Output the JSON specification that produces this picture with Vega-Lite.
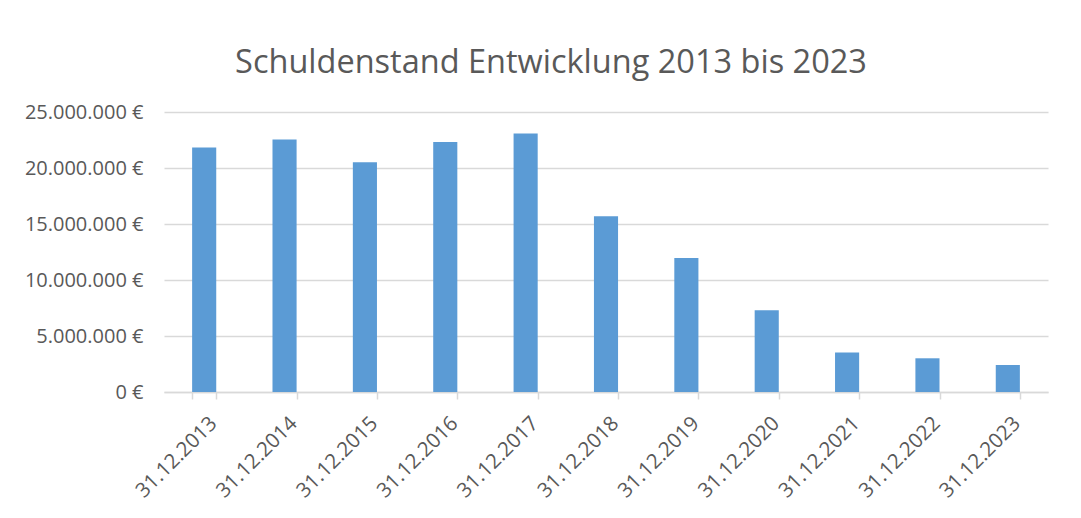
{
  "$schema": "https://vega.github.io/schema/vega-lite/v6.json",
  "width": 884,
  "height": 280,
  "autosize": {"type": "none"},
  "padding": {"left": 164, "top": 112, "right": 33, "bottom": 126},
  "background": "white",
  "title": {
    "text": "Schuldenstand Entwicklung 2013 bis 2023",
    "font": "Open Sans",
    "fontSize": 32.5,
    "fontWeight": "normal",
    "color": "#595959",
    "anchor": "middle",
    "dx": -55,
    "dy": 44,
    "offset": 34,
    "baseline": "bottom"
  },
  "data": {
    "values": [
      {"datum": "31.12.2013", "stand": 21820000},
      {"datum": "31.12.2014", "stand": 22540000},
      {"datum": "31.12.2015", "stand": 20510000},
      {"datum": "31.12.2016", "stand": 22320000},
      {"datum": "31.12.2017", "stand": 23070000},
      {"datum": "31.12.2018", "stand": 15690000},
      {"datum": "31.12.2019", "stand": 11960000},
      {"datum": "31.12.2020", "stand": 7290000},
      {"datum": "31.12.2021", "stand": 3520000},
      {"datum": "31.12.2022", "stand": 3010000},
      {"datum": "31.12.2023", "stand": 2410000}
    ]
  },
  "mark": {"type": "bar", "color": "#5B9BD5"},
  "encoding": {
    "x": {
      "field": "datum",
      "type": "nominal",
      "sort": null,
      "scale": {"paddingInner": 0.7, "paddingOuter": 0.35},
      "axis": {
        "title": null,
        "labelAngle": -45,
        "labelAlign": "right",
        "labelBaseline": "top",
        "labelFont": "Open Sans",
        "labelFontSize": 20.5,
        "labelColor": "#595959",
        "labelPadding": 14,
        "labelOffset": 2,
        "tickBand": "extent",
        "tickColor": "#D9D9D9",
        "tickSize": 7,
        "tickWidth": 1.5,
        "domainColor": "#D9D9D9",
        "domainWidth": 1.5,
        "grid": false
      }
    },
    "y": {
      "field": "stand",
      "type": "quantitative",
      "scale": {"domain": [0, 25000000]},
      "axis": {
        "title": null,
        "values": [0, 5000000, 10000000, 15000000, 20000000, 25000000],
        "format": ",.0f",
        "labelExpr": "datum.label + ' €'",
        "labelFont": "Open Sans",
        "labelFontSize": 20,
        "labelColor": "#595959",
        "labelPadding": 21,
        "domain": false,
        "ticks": false,
        "gridColor": "#D9D9D9",
        "gridWidth": 1.5
      }
    }
  },
  "config": {
    "view": {"stroke": null},
    "locale": {
      "number": {"decimal": ",", "thousands": ".", "grouping": [3], "currency": ["", " €"]}
    }
  }
}
